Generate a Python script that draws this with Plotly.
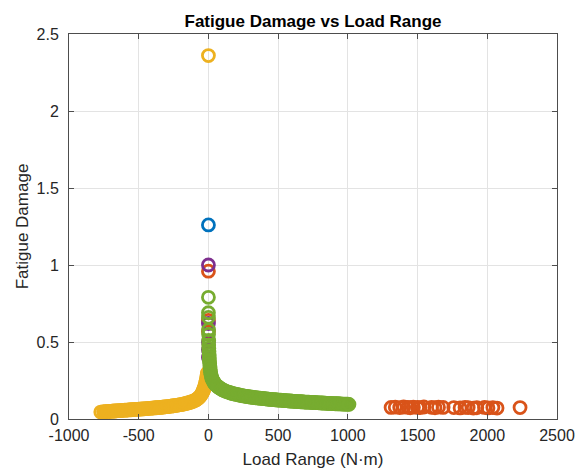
import plotly.graph_objects as go

# ---- data ----
blue_x = [0]
blue_y = [1.26]

orange_x = [0, 0, 0, 1310, 1340, 1372, 1400, 1430, 1447, 1470, 1500, 1517, 1545, 1600, 1625, 1650, 1683,
            1760, 1805, 1840, 1863, 1900, 1925, 1980, 2005, 2040, 2070, 2235]
orange_y = [0.96, 0.64, 0.57, 0.075, 0.077, 0.074, 0.078, 0.076, 0.073, 0.077, 0.075, 0.074, 0.078, 0.076,
            0.073, 0.077, 0.075, 0.074, 0.072, 0.076, 0.074, 0.071, 0.073, 0.075, 0.072, 0.074, 0.071, 0.074]

yellow_x = [0, -772, -752, -740, -730, -720, -710, -700, -690, -680, -670, -660, -650, -640, -630, -620,
            -610, -600, -590, -580, -570, -560, -550, -540, -530, -520, -510, -500, -490, -480, -470,
            -460, -450, -440, -430, -420, -410, -400, -390, -380, -370, -360, -350, -340, -330, -320,
            -310, -300, -290, -280, -270, -260, -250, -240, -230, -220, -210, -200, -190, -180, -170,
            -160, -150, -140, -130, -120, -110, -100, -92, -85, -78, -72, -66, -60, -55, -50, -46, -42,
            -38, -34, -31, -28, -25, -22, -19, -16, -13, -11, -9, -7, -5, -3]
yellow_y = [2.36, 0.045, 0.047, 0.048, 0.048, 0.049, 0.050, 0.050, 0.051, 0.052, 0.052, 0.053, 0.054,
            0.054, 0.055, 0.056, 0.056, 0.057, 0.058, 0.058, 0.059, 0.060, 0.060, 0.061, 0.062, 0.062,
            0.063, 0.064, 0.064, 0.065, 0.066, 0.066, 0.067, 0.068, 0.069, 0.069, 0.070, 0.071, 0.072,
            0.073, 0.073, 0.074, 0.075, 0.076, 0.077, 0.078, 0.079, 0.080, 0.081, 0.082, 0.083, 0.085,
            0.086, 0.087, 0.089, 0.090, 0.092, 0.093, 0.095, 0.097, 0.099, 0.101, 0.104, 0.106, 0.109,
            0.112, 0.115, 0.119, 0.123, 0.127, 0.131, 0.136, 0.141, 0.147, 0.153, 0.160, 0.167, 0.174,
            0.182, 0.190, 0.198, 0.207, 0.216, 0.226, 0.237, 0.249, 0.262, 0.274, 0.285, 0.295, 0.300, 0.290]

purple_x = [0, 0, 0, 0, 0]
purple_y = [1.0, 0.62, 0.50, 0.45, 0.40]

green_x = [0, 0, 0, 1, 1, 2, 2, 3, 4, 5, 6, 7, 9, 11, 13, 15, 18, 21, 24, 28, 32, 36, 41, 46, 52, 58, 64,
           70, 78, 86, 93, 100, 110, 120, 130, 140, 150, 160, 170, 180, 190, 200, 210, 220, 230, 240, 250,
           260, 270, 280, 290, 300, 310, 320, 330, 340, 350, 360, 370, 380, 390, 400, 410, 420, 430, 440,
           450, 460, 470, 480, 490, 500, 510, 520, 530, 540, 550, 560, 570, 580, 590, 600, 610, 620, 630,
           640, 650, 660, 670, 680, 690, 700, 710, 720, 730, 740, 750, 760, 770, 780, 790, 800, 810, 820,
           830, 840, 850, 860, 870, 880, 890, 900, 910, 920, 930, 940, 950, 960, 970, 980, 990, 1000, 1008]
green_y = [0.79, 0.69, 0.66, 0.58, 0.55, 0.51, 0.48, 0.46, 0.44, 0.42, 0.40, 0.38, 0.36, 0.34, 0.32, 0.305,
           0.29, 0.277, 0.267, 0.258, 0.250, 0.243, 0.236, 0.229, 0.222, 0.217, 0.212, 0.208, 0.203, 0.198,
           0.194, 0.190, 0.186, 0.182, 0.178, 0.175, 0.172, 0.169, 0.166, 0.164, 0.162, 0.160, 0.158, 0.156,
           0.154, 0.152, 0.150, 0.149, 0.147, 0.146, 0.144, 0.143, 0.142, 0.140, 0.139, 0.138, 0.137, 0.136,
           0.135, 0.134, 0.133, 0.132, 0.131, 0.130, 0.129, 0.128, 0.127, 0.126, 0.126, 0.125, 0.124, 0.123,
           0.122, 0.122, 0.121, 0.120, 0.119, 0.119, 0.118, 0.117, 0.117, 0.116, 0.115, 0.115, 0.114, 0.113,
           0.113, 0.112, 0.112, 0.111, 0.110, 0.110, 0.109, 0.109, 0.108, 0.108, 0.107, 0.107, 0.106, 0.106,
           0.105, 0.105, 0.104, 0.104, 0.103, 0.103, 0.102, 0.102, 0.101, 0.101, 0.100, 0.100, 0.099, 0.099,
           0.099, 0.098, 0.098, 0.097, 0.097, 0.097, 0.096, 0.096, 0.095]

x_ticks = [-1000, -500, 0, 500, 1000, 1500, 2000, 2500]
y_ticks = [0, 0.5, 1, 1.5, 2, 2.5]

series = [
    (blue_x, blue_y, "#0072BD"),
    (orange_x, orange_y, "#D95319"),
    (yellow_x, yellow_y, "#EDB120"),
    (purple_x, purple_y, "#7E2F8E"),
    (green_x, green_y, "#77AC30"),
]

FONT = "Liberation Sans, Arial, sans-serif"

fig = go.Figure()
for xs, ys, c in series:
    fig.add_trace(go.Scatter(
        x=xs, y=ys, mode="markers",
        marker=dict(symbol="circle-open", size=12, color=c, line=dict(width=2.8, color=c)),
        showlegend=False, hoverinfo="skip"))

axis_common = dict(
    showline=True, linecolor="#4d4d4d", linewidth=1, mirror="ticks",
    ticks="inside", ticklen=5, tickcolor="#4d4d4d",
    showgrid=True, gridcolor="#e3e3e3", gridwidth=1, zeroline=False,
    automargin=False,
    tickfont=dict(family=FONT, size=16, color="#262626"),
)

fig.update_xaxes(range=[-1000, 2500], tickvals=x_ticks, ticktext=[str(v) for v in x_ticks],
                 title=dict(text="Load Range (N·m)", font=dict(family=FONT, size=17, color="#262626"), standoff=9),
                 ticklabelstandoff=2,
                 **axis_common)
fig.update_yaxes(range=[0, 2.5], tickvals=y_ticks, ticktext=["0", "0.5", "1", "1.5", "2", "2.5"],
                 title=dict(text="Fatigue Damage", font=dict(family=FONT, size=17, color="#262626"), standoff=3),
                 ticklabelstandoff=6,
                 **axis_common)

fig.update_layout(
    width=584, height=470,
    margin=dict(l=69, r=27, t=34, b=51),
    paper_bgcolor="white", plot_bgcolor="white",
    title=dict(text="<b>Fatigue Damage vs Load Range</b>", x=(69 + 557) / 2 / 584, xanchor="center",
               y=1 - 21 / 470, yanchor="middle",
               font=dict(family=FONT, size=17, color="#000000")),
)

fig.write_html("out.html")
